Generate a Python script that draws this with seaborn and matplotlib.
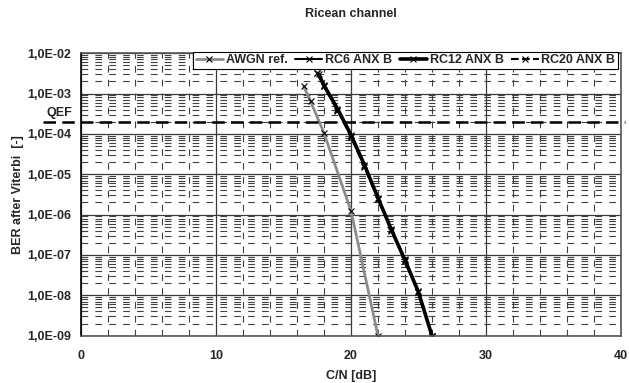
import numpy as np
import pandas as pd
import matplotlib
matplotlib.use("Agg")
import matplotlib.pyplot as plt
import matplotlib.transforms as mtransforms
from matplotlib.ticker import FixedLocator, NullFormatter
import seaborn as sns

# data
awgn_cn = [16.5, 17.0, 18.0, 20.0, 22.0]
awgn_ber = [1.5e-3, 6.5e-4, 1.05e-4, 1.25e-6, 1e-9]

rc6_cn = [17.5, 18.0, 19.0, 20.0, 21.0, 22.0, 23.0, 24.0, 25.0, 26.0]
rc6_ber = [3.2e-3, 1.5e-3, 4.0e-4, 9.0e-5, 1.6e-5, 2.5e-6, 4.0e-7, 7.0e-8, 1.2e-8, 1e-9]

rc12_cn = [17.6, 18.0, 19.0, 20.0, 21.0, 22.0, 23.0, 24.0, 25.0, 26.0]
rc12_ber = [3.0e-3, 1.6e-3, 4.2e-4, 9.5e-5, 1.7e-5, 2.6e-6, 4.2e-7, 7.5e-8, 1.2e-8, 1e-9]

rc20_cn = [17.5, 18.0, 19.0, 20.0, 21.0, 22.0, 23.0, 24.0, 25.0, 26.0]
rc20_ber = [3.3e-3, 1.5e-3, 3.8e-4, 8.5e-5, 1.5e-5, 2.4e-6, 4.3e-7, 8.0e-8, 1.3e-8, 1e-9]

qef = 2e-4
y_ticks = [1e-2, 1e-3, 1e-4, 1e-5, 1e-6, 1e-7, 1e-8, 1e-9]
y_labels = ["1,0E-02", "1,0E-03", "1,0E-04", "1,0E-05", "1,0E-06", "1,0E-07", "1,0E-08", "1,0E-09"]

sns.set_style("white")
plt.rcParams["font.family"] = ["Liberation Sans", "DejaVu Sans"]
plt.rcParams["font.weight"] = "bold"
fs = 9

fig = plt.figure(figsize=(6.29, 3.83), dpi=100)
ax = fig.add_axes([0.129, 0.1235, 0.858, 0.7375])

ax.set_yscale("log")
ax.set_xlim(0, 40)
ax.set_ylim(1e-9, 1e-2)

# grid
ax.yaxis.set_major_locator(FixedLocator(y_ticks))
minor_y = [m * 10.0 ** e for e in range(-9, -2) for m in range(2, 10)]
ax.yaxis.set_minor_locator(FixedLocator(minor_y))
ax.yaxis.set_minor_formatter(NullFormatter())
ax.xaxis.set_major_locator(FixedLocator([0, 10, 20, 30, 40]))
ax.xaxis.set_minor_locator(FixedLocator([x for x in range(2, 40, 2) if x % 10]))

ax.grid(which="major", axis="both", color="#3a3a3a", lw=0.9, ls="-")
ax.grid(which="minor", axis="both", color="#404040", lw=0.8, ls=(0, (6, 6.5)))
ax.set_axisbelow(True)

ax.set_yticklabels(y_labels)
ax.tick_params(axis="both", which="major", labelsize=fs, length=3, width=0.8, color="black", direction="out", pad=4)
ax.tick_params(axis="y", which="minor", length=0)
ax.tick_params(axis="x", which="minor", length=3, width=0.8, direction="in", color="black")
ax.tick_params(axis="x", which="major", pad=7)
for lab in ax.get_xticklabels() + ax.get_yticklabels():
    lab.set_fontweight("bold")

for s in ax.spines.values():
    s.set_color("#555555")
    s.set_linewidth(1.2)
ax.spines["left"].set_color("black")

# curves
sns.lineplot(x=awgn_cn, y=awgn_ber, ax=ax, color="#8c8c8c", lw=2.0, marker="x",
             markersize=5, markeredgecolor="black", markeredgewidth=0.8, label="AWGN ref.")
sns.lineplot(x=rc6_cn, y=rc6_ber, ax=ax, color="black", lw=1.5, marker="x",
             markersize=5, markeredgecolor="black", markeredgewidth=0.8, label="RC6 ANX B")
sns.lineplot(x=rc12_cn, y=rc12_ber, ax=ax, color="black", lw=2.6, marker="x",
             markersize=5, markeredgecolor="black", markeredgewidth=0.8, label="RC12 ANX B")
sns.lineplot(x=rc20_cn, y=rc20_ber, ax=ax, color="black", lw=1.5, ls="--", marker="x",
             markersize=5, markeredgecolor="black", markeredgewidth=0.8, label="RC20 ANX B")

# QEF line extending outside the axes
ax.axhline(qef, xmin=-0.071, xmax=1.008, color="black", lw=1.8, ls=(0, (5, 2.5)), clip_on=False, zorder=5)
trans = mtransforms.blended_transform_factory(ax.transAxes, ax.transData)
ax.text(-0.04, qef * 1.2, "QEF", transform=trans, ha="center", va="bottom",
        fontsize=fs, fontweight="bold")

leg = ax.legend(loc="upper right", bbox_to_anchor=(0.994, 1.006), ncol=4, frameon=True,
                fancybox=False, edgecolor="black", framealpha=1, fontsize=fs,
                handlelength=2.2, handletextpad=0.2, columnspacing=0.6, borderpad=0.2,
                borderaxespad=0)
leg.get_frame().set_linewidth(0.8)
for t in leg.get_texts():
    t.set_fontweight("bold")

ax.text(0.5, 1.139, "Ricean channel", transform=ax.transAxes, ha="center", va="center",
        fontsize=fs, fontweight="bold")
ax.set_xlabel("C/N [dB]", fontsize=fs, fontweight="bold")
ax.set_ylabel("BER after Viterbi  [-]", fontsize=fs, fontweight="bold")
ax.xaxis.set_label_coords(0.5, -0.122)
ax.yaxis.set_label_coords(-0.105, 0.5)

fig.savefig("out.png", dpi=100)
